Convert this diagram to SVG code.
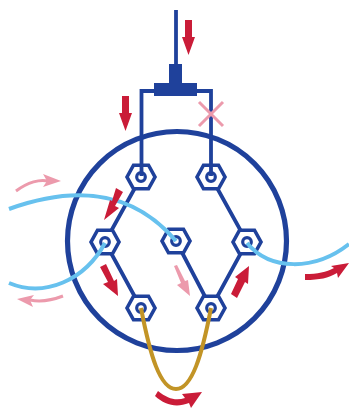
<svg xmlns="http://www.w3.org/2000/svg" width="349" height="411" viewBox="0 0 349 411">
<style>
.w{fill:none;stroke:#1f419b;stroke-width:3.8}
.hex{fill:#fff;stroke:#1f419b;stroke-width:3.6}
.ring{fill:#fff;stroke:#1f419b;stroke-width:3.2}
.blue{fill:none;stroke:#67c1ee;stroke-width:4}
.gold{fill:none;stroke:#c29426;stroke-width:4}
.red{fill:#ca1c38}
.pink{fill:#ec9aac}
.pinkl{fill:none;stroke:#ec9aac;stroke-width:3}
</style>
<defs>
<g id="nut"><path class="hex" d="M-14 0L-7.500 -11.800H7.500L14 0L7.500 11.800H-7.500Z"/><circle class="ring" r="4.300"/></g>
</defs>
<g id="body"><circle cx="177" cy="241" r="109.500" fill="none" stroke="#1f419b" stroke-width="5.200"/></g>
<g id="connectors">
<path class="w" d="M141 177L105 242L141 308"/>
<path class="w" d="M211 177L247 242L211 308L176 241"/>
</g>
<g id="n1"><use href="#nut" x="141" y="177"/></g>
<g id="n2"><use href="#nut" x="211" y="177"/></g>
<g id="n3"><use href="#nut" x="105" y="242"/></g>
<g id="n4"><use href="#nut" x="176" y="241"/></g>
<g id="n5"><use href="#nut" x="247" y="242"/></g>
<g id="n6"><use href="#nut" x="141" y="308"/></g>
<g id="n7"><use href="#nut" x="211" y="308"/></g>
<g id="feed">
<path class="w" d="M176 10V70"/>
<path class="w" d="M141.500 176V91H211V176"/>
<path fill="#1f419b" d="M169 64H182V83H197V96H154V83H169Z"/>
</g>
<g id="wires">
<path class="blue" d="M9 209C70 187 130 187 176 241"/>
<path class="blue" d="M9 283C45 298 85 280 105 243"/>
<path class="blue" d="M247 243C270 271 315 271 349 244"/>
<path class="gold" d="M141 308C150 355 160 389 176 389C192 389 202 355 211 308"/>
</g>
<g id="arrows">
<path class="red" d="M185 20H192V37H195L188.500 55L182 37H185Z"/>
<path class="red" d="M122 96H129V113H132L125.500 131L119 113H122Z"/>
<path class="red" d="M116 188L123 192L115 206L119 208L104 220L110 200L112 201Z"/>
<path class="red" d="M100 267L106 264L114 281L117 279L118 296L103 284L108 282Z"/>
<path class="red" d="M231 294L237 298L245 282L248 284L249 266L235 277L238 279Z"/>
<path class="red" d="M305 274C318 274 326 272 334 268L331 266L349 263L338 278L337 273C328 278 320 280 305 280Z"/>
<path class="red" d="M158 391C168 399 176 401 185 398L182 394L202 392L191 408L189 403C176 408 165 405 155 396Z"/>
<path class="pink" d="M174 266L177 265L185 281L188 280L190 296L177 285L181 283Z"/>
<path class="pinkl" d="M16 191C28 182 40 179 48 181"/>
<path class="pink" d="M43 174L61 181L43 187L47 181Z"/>
<path class="pinkl" d="M63 296C50 301 40 302 30 300"/>
<path class="pink" d="M34 295L17 299L33 307L30 300Z"/>
<path d="M199 102L223 126M223 102L199 126" fill="none" stroke="#ec9aac" stroke-width="3"/>
</g>
</svg>
